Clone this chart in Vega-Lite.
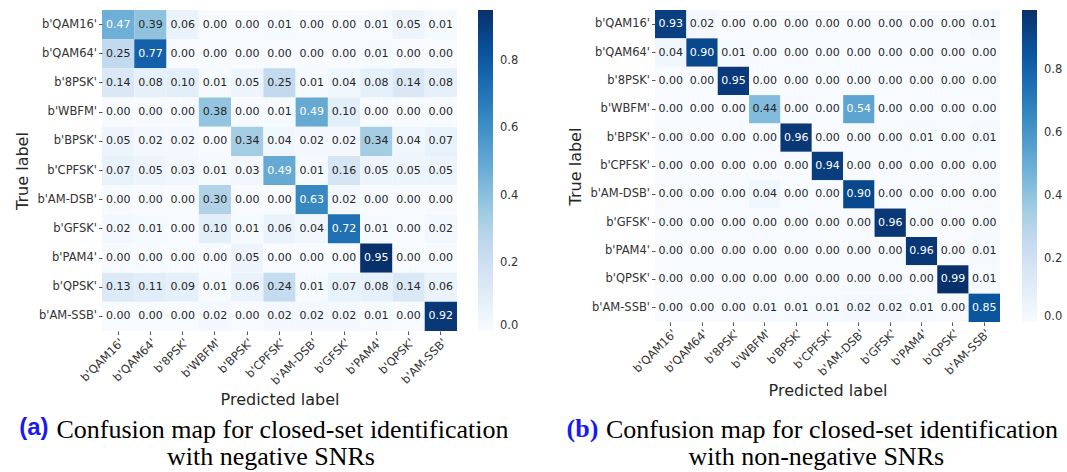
{
  "$schema": "https://vega.github.io/schema/vega-lite/v6.json",
  "padding": {"left": 14, "top": 10, "right": 0, "bottom": 0},
  "background": "white",
  "spacing": 553,
  "bounds": "flush",
  "align": "none",
  "config": {
    "view": {"stroke": null},
    "font": "DejaVu Sans",
    "axis": {"domain": false, "grid": false, "labelFont": "DejaVu Sans", "labelFontSize": 11.5, "labelColor": "#333333", "tickColor": "#555555", "tickSize": 3.5, "labelPadding": 2, "titleFont": "DejaVu Sans", "titleFontSize": 16, "titleFontWeight": "normal", "titleColor": "#262626"},
    "legend": {"labelFont": "DejaVu Sans", "labelFontSize": 11.5, "labelColor": "#333333"},
    "title": {"font": "Liberation Serif", "fontSize": 26, "fontWeight": "normal", "color": "#000000", "lineHeight": 30}
  },
  "datasets": {
    "neg": [
      {"t":"b'QAM16'","p":"b'QAM16'","v":0.47},{"t":"b'QAM16'","p":"b'QAM64'","v":0.39},{"t":"b'QAM16'","p":"b'8PSK'","v":0.06},{"t":"b'QAM16'","p":"b'WBFM'","v":0.00},{"t":"b'QAM16'","p":"b'BPSK'","v":0.00},{"t":"b'QAM16'","p":"b'CPFSK'","v":0.01},{"t":"b'QAM16'","p":"b'AM-DSB'","v":0.00},{"t":"b'QAM16'","p":"b'GFSK'","v":0.00},{"t":"b'QAM16'","p":"b'PAM4'","v":0.01},{"t":"b'QAM16'","p":"b'QPSK'","v":0.05},{"t":"b'QAM16'","p":"b'AM-SSB'","v":0.01},
      {"t":"b'QAM64'","p":"b'QAM16'","v":0.25},{"t":"b'QAM64'","p":"b'QAM64'","v":0.77},{"t":"b'QAM64'","p":"b'8PSK'","v":0.00},{"t":"b'QAM64'","p":"b'WBFM'","v":0.00},{"t":"b'QAM64'","p":"b'BPSK'","v":0.00},{"t":"b'QAM64'","p":"b'CPFSK'","v":0.00},{"t":"b'QAM64'","p":"b'AM-DSB'","v":0.00},{"t":"b'QAM64'","p":"b'GFSK'","v":0.00},{"t":"b'QAM64'","p":"b'PAM4'","v":0.01},{"t":"b'QAM64'","p":"b'QPSK'","v":0.00},{"t":"b'QAM64'","p":"b'AM-SSB'","v":0.00},
      {"t":"b'8PSK'","p":"b'QAM16'","v":0.14},{"t":"b'8PSK'","p":"b'QAM64'","v":0.08},{"t":"b'8PSK'","p":"b'8PSK'","v":0.10},{"t":"b'8PSK'","p":"b'WBFM'","v":0.01},{"t":"b'8PSK'","p":"b'BPSK'","v":0.05},{"t":"b'8PSK'","p":"b'CPFSK'","v":0.25},{"t":"b'8PSK'","p":"b'AM-DSB'","v":0.01},{"t":"b'8PSK'","p":"b'GFSK'","v":0.04},{"t":"b'8PSK'","p":"b'PAM4'","v":0.08},{"t":"b'8PSK'","p":"b'QPSK'","v":0.14},{"t":"b'8PSK'","p":"b'AM-SSB'","v":0.08},
      {"t":"b'WBFM'","p":"b'QAM16'","v":0.00},{"t":"b'WBFM'","p":"b'QAM64'","v":0.00},{"t":"b'WBFM'","p":"b'8PSK'","v":0.00},{"t":"b'WBFM'","p":"b'WBFM'","v":0.38},{"t":"b'WBFM'","p":"b'BPSK'","v":0.00},{"t":"b'WBFM'","p":"b'CPFSK'","v":0.01},{"t":"b'WBFM'","p":"b'AM-DSB'","v":0.49},{"t":"b'WBFM'","p":"b'GFSK'","v":0.10},{"t":"b'WBFM'","p":"b'PAM4'","v":0.00},{"t":"b'WBFM'","p":"b'QPSK'","v":0.00},{"t":"b'WBFM'","p":"b'AM-SSB'","v":0.00},
      {"t":"b'BPSK'","p":"b'QAM16'","v":0.05},{"t":"b'BPSK'","p":"b'QAM64'","v":0.02},{"t":"b'BPSK'","p":"b'8PSK'","v":0.02},{"t":"b'BPSK'","p":"b'WBFM'","v":0.00},{"t":"b'BPSK'","p":"b'BPSK'","v":0.34},{"t":"b'BPSK'","p":"b'CPFSK'","v":0.04},{"t":"b'BPSK'","p":"b'AM-DSB'","v":0.02},{"t":"b'BPSK'","p":"b'GFSK'","v":0.02},{"t":"b'BPSK'","p":"b'PAM4'","v":0.34},{"t":"b'BPSK'","p":"b'QPSK'","v":0.04},{"t":"b'BPSK'","p":"b'AM-SSB'","v":0.07},
      {"t":"b'CPFSK'","p":"b'QAM16'","v":0.07},{"t":"b'CPFSK'","p":"b'QAM64'","v":0.05},{"t":"b'CPFSK'","p":"b'8PSK'","v":0.03},{"t":"b'CPFSK'","p":"b'WBFM'","v":0.01},{"t":"b'CPFSK'","p":"b'BPSK'","v":0.03},{"t":"b'CPFSK'","p":"b'CPFSK'","v":0.49},{"t":"b'CPFSK'","p":"b'AM-DSB'","v":0.01},{"t":"b'CPFSK'","p":"b'GFSK'","v":0.16},{"t":"b'CPFSK'","p":"b'PAM4'","v":0.05},{"t":"b'CPFSK'","p":"b'QPSK'","v":0.05},{"t":"b'CPFSK'","p":"b'AM-SSB'","v":0.05},
      {"t":"b'AM-DSB'","p":"b'QAM16'","v":0.00},{"t":"b'AM-DSB'","p":"b'QAM64'","v":0.00},{"t":"b'AM-DSB'","p":"b'8PSK'","v":0.00},{"t":"b'AM-DSB'","p":"b'WBFM'","v":0.30},{"t":"b'AM-DSB'","p":"b'BPSK'","v":0.00},{"t":"b'AM-DSB'","p":"b'CPFSK'","v":0.00},{"t":"b'AM-DSB'","p":"b'AM-DSB'","v":0.63},{"t":"b'AM-DSB'","p":"b'GFSK'","v":0.02},{"t":"b'AM-DSB'","p":"b'PAM4'","v":0.00},{"t":"b'AM-DSB'","p":"b'QPSK'","v":0.00},{"t":"b'AM-DSB'","p":"b'AM-SSB'","v":0.00},
      {"t":"b'GFSK'","p":"b'QAM16'","v":0.02},{"t":"b'GFSK'","p":"b'QAM64'","v":0.01},{"t":"b'GFSK'","p":"b'8PSK'","v":0.00},{"t":"b'GFSK'","p":"b'WBFM'","v":0.10},{"t":"b'GFSK'","p":"b'BPSK'","v":0.01},{"t":"b'GFSK'","p":"b'CPFSK'","v":0.06},{"t":"b'GFSK'","p":"b'AM-DSB'","v":0.04},{"t":"b'GFSK'","p":"b'GFSK'","v":0.72},{"t":"b'GFSK'","p":"b'PAM4'","v":0.01},{"t":"b'GFSK'","p":"b'QPSK'","v":0.00},{"t":"b'GFSK'","p":"b'AM-SSB'","v":0.02},
      {"t":"b'PAM4'","p":"b'QAM16'","v":0.00},{"t":"b'PAM4'","p":"b'QAM64'","v":0.00},{"t":"b'PAM4'","p":"b'8PSK'","v":0.00},{"t":"b'PAM4'","p":"b'WBFM'","v":0.00},{"t":"b'PAM4'","p":"b'BPSK'","v":0.05},{"t":"b'PAM4'","p":"b'CPFSK'","v":0.00},{"t":"b'PAM4'","p":"b'AM-DSB'","v":0.00},{"t":"b'PAM4'","p":"b'GFSK'","v":0.00},{"t":"b'PAM4'","p":"b'PAM4'","v":0.95},{"t":"b'PAM4'","p":"b'QPSK'","v":0.00},{"t":"b'PAM4'","p":"b'AM-SSB'","v":0.00},
      {"t":"b'QPSK'","p":"b'QAM16'","v":0.13},{"t":"b'QPSK'","p":"b'QAM64'","v":0.11},{"t":"b'QPSK'","p":"b'8PSK'","v":0.09},{"t":"b'QPSK'","p":"b'WBFM'","v":0.01},{"t":"b'QPSK'","p":"b'BPSK'","v":0.06},{"t":"b'QPSK'","p":"b'CPFSK'","v":0.24},{"t":"b'QPSK'","p":"b'AM-DSB'","v":0.01},{"t":"b'QPSK'","p":"b'GFSK'","v":0.07},{"t":"b'QPSK'","p":"b'PAM4'","v":0.08},{"t":"b'QPSK'","p":"b'QPSK'","v":0.14},{"t":"b'QPSK'","p":"b'AM-SSB'","v":0.06},
      {"t":"b'AM-SSB'","p":"b'QAM16'","v":0.00},{"t":"b'AM-SSB'","p":"b'QAM64'","v":0.00},{"t":"b'AM-SSB'","p":"b'8PSK'","v":0.00},{"t":"b'AM-SSB'","p":"b'WBFM'","v":0.02},{"t":"b'AM-SSB'","p":"b'BPSK'","v":0.00},{"t":"b'AM-SSB'","p":"b'CPFSK'","v":0.02},{"t":"b'AM-SSB'","p":"b'AM-DSB'","v":0.02},{"t":"b'AM-SSB'","p":"b'GFSK'","v":0.02},{"t":"b'AM-SSB'","p":"b'PAM4'","v":0.01},{"t":"b'AM-SSB'","p":"b'QPSK'","v":0.00},{"t":"b'AM-SSB'","p":"b'AM-SSB'","v":0.92}
    ],
    "pos": [
      {"t":"b'QAM16'","p":"b'QAM16'","v":0.93},{"t":"b'QAM16'","p":"b'QAM64'","v":0.02},{"t":"b'QAM16'","p":"b'8PSK'","v":0.00},{"t":"b'QAM16'","p":"b'WBFM'","v":0.00},{"t":"b'QAM16'","p":"b'BPSK'","v":0.00},{"t":"b'QAM16'","p":"b'CPFSK'","v":0.00},{"t":"b'QAM16'","p":"b'AM-DSB'","v":0.00},{"t":"b'QAM16'","p":"b'GFSK'","v":0.00},{"t":"b'QAM16'","p":"b'PAM4'","v":0.00},{"t":"b'QAM16'","p":"b'QPSK'","v":0.00},{"t":"b'QAM16'","p":"b'AM-SSB'","v":0.01},
      {"t":"b'QAM64'","p":"b'QAM16'","v":0.04},{"t":"b'QAM64'","p":"b'QAM64'","v":0.90},{"t":"b'QAM64'","p":"b'8PSK'","v":0.01},{"t":"b'QAM64'","p":"b'WBFM'","v":0.00},{"t":"b'QAM64'","p":"b'BPSK'","v":0.00},{"t":"b'QAM64'","p":"b'CPFSK'","v":0.00},{"t":"b'QAM64'","p":"b'AM-DSB'","v":0.00},{"t":"b'QAM64'","p":"b'GFSK'","v":0.00},{"t":"b'QAM64'","p":"b'PAM4'","v":0.00},{"t":"b'QAM64'","p":"b'QPSK'","v":0.00},{"t":"b'QAM64'","p":"b'AM-SSB'","v":0.00},
      {"t":"b'8PSK'","p":"b'QAM16'","v":0.00},{"t":"b'8PSK'","p":"b'QAM64'","v":0.00},{"t":"b'8PSK'","p":"b'8PSK'","v":0.95},{"t":"b'8PSK'","p":"b'WBFM'","v":0.00},{"t":"b'8PSK'","p":"b'BPSK'","v":0.00},{"t":"b'8PSK'","p":"b'CPFSK'","v":0.00},{"t":"b'8PSK'","p":"b'AM-DSB'","v":0.00},{"t":"b'8PSK'","p":"b'GFSK'","v":0.00},{"t":"b'8PSK'","p":"b'PAM4'","v":0.00},{"t":"b'8PSK'","p":"b'QPSK'","v":0.00},{"t":"b'8PSK'","p":"b'AM-SSB'","v":0.00},
      {"t":"b'WBFM'","p":"b'QAM16'","v":0.00},{"t":"b'WBFM'","p":"b'QAM64'","v":0.00},{"t":"b'WBFM'","p":"b'8PSK'","v":0.00},{"t":"b'WBFM'","p":"b'WBFM'","v":0.44},{"t":"b'WBFM'","p":"b'BPSK'","v":0.00},{"t":"b'WBFM'","p":"b'CPFSK'","v":0.00},{"t":"b'WBFM'","p":"b'AM-DSB'","v":0.54},{"t":"b'WBFM'","p":"b'GFSK'","v":0.00},{"t":"b'WBFM'","p":"b'PAM4'","v":0.00},{"t":"b'WBFM'","p":"b'QPSK'","v":0.00},{"t":"b'WBFM'","p":"b'AM-SSB'","v":0.00},
      {"t":"b'BPSK'","p":"b'QAM16'","v":0.00},{"t":"b'BPSK'","p":"b'QAM64'","v":0.00},{"t":"b'BPSK'","p":"b'8PSK'","v":0.00},{"t":"b'BPSK'","p":"b'WBFM'","v":0.00},{"t":"b'BPSK'","p":"b'BPSK'","v":0.96},{"t":"b'BPSK'","p":"b'CPFSK'","v":0.00},{"t":"b'BPSK'","p":"b'AM-DSB'","v":0.00},{"t":"b'BPSK'","p":"b'GFSK'","v":0.00},{"t":"b'BPSK'","p":"b'PAM4'","v":0.01},{"t":"b'BPSK'","p":"b'QPSK'","v":0.00},{"t":"b'BPSK'","p":"b'AM-SSB'","v":0.01},
      {"t":"b'CPFSK'","p":"b'QAM16'","v":0.00},{"t":"b'CPFSK'","p":"b'QAM64'","v":0.00},{"t":"b'CPFSK'","p":"b'8PSK'","v":0.00},{"t":"b'CPFSK'","p":"b'WBFM'","v":0.00},{"t":"b'CPFSK'","p":"b'BPSK'","v":0.00},{"t":"b'CPFSK'","p":"b'CPFSK'","v":0.94},{"t":"b'CPFSK'","p":"b'AM-DSB'","v":0.00},{"t":"b'CPFSK'","p":"b'GFSK'","v":0.00},{"t":"b'CPFSK'","p":"b'PAM4'","v":0.00},{"t":"b'CPFSK'","p":"b'QPSK'","v":0.00},{"t":"b'CPFSK'","p":"b'AM-SSB'","v":0.00},
      {"t":"b'AM-DSB'","p":"b'QAM16'","v":0.00},{"t":"b'AM-DSB'","p":"b'QAM64'","v":0.00},{"t":"b'AM-DSB'","p":"b'8PSK'","v":0.00},{"t":"b'AM-DSB'","p":"b'WBFM'","v":0.04},{"t":"b'AM-DSB'","p":"b'BPSK'","v":0.00},{"t":"b'AM-DSB'","p":"b'CPFSK'","v":0.00},{"t":"b'AM-DSB'","p":"b'AM-DSB'","v":0.90},{"t":"b'AM-DSB'","p":"b'GFSK'","v":0.00},{"t":"b'AM-DSB'","p":"b'PAM4'","v":0.00},{"t":"b'AM-DSB'","p":"b'QPSK'","v":0.00},{"t":"b'AM-DSB'","p":"b'AM-SSB'","v":0.00},
      {"t":"b'GFSK'","p":"b'QAM16'","v":0.00},{"t":"b'GFSK'","p":"b'QAM64'","v":0.00},{"t":"b'GFSK'","p":"b'8PSK'","v":0.00},{"t":"b'GFSK'","p":"b'WBFM'","v":0.00},{"t":"b'GFSK'","p":"b'BPSK'","v":0.00},{"t":"b'GFSK'","p":"b'CPFSK'","v":0.00},{"t":"b'GFSK'","p":"b'AM-DSB'","v":0.00},{"t":"b'GFSK'","p":"b'GFSK'","v":0.96},{"t":"b'GFSK'","p":"b'PAM4'","v":0.00},{"t":"b'GFSK'","p":"b'QPSK'","v":0.00},{"t":"b'GFSK'","p":"b'AM-SSB'","v":0.00},
      {"t":"b'PAM4'","p":"b'QAM16'","v":0.00},{"t":"b'PAM4'","p":"b'QAM64'","v":0.00},{"t":"b'PAM4'","p":"b'8PSK'","v":0.00},{"t":"b'PAM4'","p":"b'WBFM'","v":0.00},{"t":"b'PAM4'","p":"b'BPSK'","v":0.00},{"t":"b'PAM4'","p":"b'CPFSK'","v":0.00},{"t":"b'PAM4'","p":"b'AM-DSB'","v":0.00},{"t":"b'PAM4'","p":"b'GFSK'","v":0.00},{"t":"b'PAM4'","p":"b'PAM4'","v":0.96},{"t":"b'PAM4'","p":"b'QPSK'","v":0.00},{"t":"b'PAM4'","p":"b'AM-SSB'","v":0.01},
      {"t":"b'QPSK'","p":"b'QAM16'","v":0.00},{"t":"b'QPSK'","p":"b'QAM64'","v":0.00},{"t":"b'QPSK'","p":"b'8PSK'","v":0.00},{"t":"b'QPSK'","p":"b'WBFM'","v":0.00},{"t":"b'QPSK'","p":"b'BPSK'","v":0.00},{"t":"b'QPSK'","p":"b'CPFSK'","v":0.00},{"t":"b'QPSK'","p":"b'AM-DSB'","v":0.00},{"t":"b'QPSK'","p":"b'GFSK'","v":0.00},{"t":"b'QPSK'","p":"b'PAM4'","v":0.00},{"t":"b'QPSK'","p":"b'QPSK'","v":0.99},{"t":"b'QPSK'","p":"b'AM-SSB'","v":0.01},
      {"t":"b'AM-SSB'","p":"b'QAM16'","v":0.00},{"t":"b'AM-SSB'","p":"b'QAM64'","v":0.00},{"t":"b'AM-SSB'","p":"b'8PSK'","v":0.00},{"t":"b'AM-SSB'","p":"b'WBFM'","v":0.01},{"t":"b'AM-SSB'","p":"b'BPSK'","v":0.01},{"t":"b'AM-SSB'","p":"b'CPFSK'","v":0.01},{"t":"b'AM-SSB'","p":"b'AM-DSB'","v":0.02},{"t":"b'AM-SSB'","p":"b'GFSK'","v":0.02},{"t":"b'AM-SSB'","p":"b'PAM4'","v":0.01},{"t":"b'AM-SSB'","p":"b'QPSK'","v":0.00},{"t":"b'AM-SSB'","p":"b'AM-SSB'","v":0.85}
    ]
  },
  "resolve": {"scale": {"color": "independent", "x": "independent", "y": "independent"}, "legend": {"color": "independent"}},
  "hconcat": [
    {
      "bounds": "flush",
      "resolve": {"scale": {"color": "independent"}, "legend": {"color": "independent"}},
      "title": {"text": "with negative SNRs", "orient": "bottom", "anchor": "middle", "offset": 1, "dx": 4},
      "vconcat": [
        {
          "bounds": "flush",
          "resolve": {"scale": {"color": "independent"}, "legend": {"color": "independent"}},
          "title": {"text": "(a)", "orient": "bottom", "anchor": "middle", "font": "Liberation Sans", "fontWeight": "bold", "fontSize": 24, "color": "#1a1aee", "offset": 0, "dx": -233, "dy": -27},
          "vconcat": [
            {
              "width": 355,
              "height": 321,
              "data": {"name": "neg"},
              "title": {"text": "Confusion map for closed-set identification", "orient": "bottom", "anchor": "middle", "offset": 9, "dx": 3},
              "encoding": {
                "x": {"field": "p", "type": "ordinal", "sort": null, "scale": {"paddingInner": 0, "paddingOuter": 0}, "axis": {"title": "Predicted label", "labelAngle": -45, "titlePadding": 5}},
                "y": {"field": "t", "type": "ordinal", "sort": null, "scale": {"paddingInner": 0, "paddingOuter": 0}, "axis": {"title": "True label", "titlePadding": 6}}
              },
              "layer": [
                {
                  "mark": {"type": "rect"},
                  "encoding": {
                    "color": {"field": "v", "type": "quantitative",
                      "scale": {"domain": [0, 0.11875, 0.2375, 0.35625, 0.475, 0.59375, 0.7125, 0.83125, 0.95], "range": ["#f7fbff", "#deebf7", "#c6dbef", "#9ecae1", "#6baed6", "#4292c6", "#2171b5", "#08519c", "#08306b"]},
                      "legend": {"title": null, "orient": "right", "offset": 21, "direction": "vertical", "gradientLength": 321, "gradientThickness": 15, "gradientStrokeWidth": 0, "values": [0, 0.2, 0.4, 0.6, 0.8], "format": ".1f", "labelOffset": 7}}
                  }
                },
                {
                  "mark": {"type": "text", "fontSize": 11, "font": "DejaVu Sans"},
                  "encoding": {
                    "text": {"field": "v", "type": "quantitative", "format": ".2f"},
                    "color": {"condition": {"test": "datum.v > 0.45", "value": "#ffffff"}, "value": "#262626"}
                  }
                }
              ]
            }
          ]
        }
      ]
    },
    {
      "bounds": "flush",
      "resolve": {"scale": {"color": "independent"}, "legend": {"color": "independent"}},
      "title": {"text": "with non-negative SNRs", "orient": "bottom", "anchor": "middle", "offset": 1, "dx": 1.5},
      "vconcat": [
        {
          "bounds": "flush",
          "resolve": {"scale": {"color": "independent"}, "legend": {"color": "independent"}},
          "title": {"text": "(b)", "orient": "bottom", "anchor": "middle", "font": "Liberation Serif", "fontWeight": "bold", "fontSize": 26, "color": "#1a1aee", "offset": 0, "dx": -233, "dy": -27},
          "vconcat": [
            {
              "width": 345,
              "height": 312,
              "data": {"name": "pos"},
              "title": {"text": "Confusion map for closed-set identification", "orient": "bottom", "anchor": "middle", "offset": 18, "dx": 4.5},
              "encoding": {
                "x": {"field": "p", "type": "ordinal", "sort": null, "scale": {"paddingInner": 0, "paddingOuter": 0}, "axis": {"title": "Predicted label", "labelAngle": -45, "titlePadding": 5}},
                "y": {"field": "t", "type": "ordinal", "sort": null, "scale": {"paddingInner": 0, "paddingOuter": 0}, "axis": {"title": "True label", "titlePadding": 6}}
              },
              "layer": [
                {
                  "mark": {"type": "rect"},
                  "encoding": {
                    "color": {"field": "v", "type": "quantitative",
                      "scale": {"domain": [0, 0.12375, 0.2475, 0.37125, 0.495, 0.61875, 0.7425, 0.86625, 0.99], "range": ["#f7fbff", "#deebf7", "#c6dbef", "#9ecae1", "#6baed6", "#4292c6", "#2171b5", "#08519c", "#08306b"]},
                      "legend": {"title": null, "orient": "right", "offset": 22, "direction": "vertical", "gradientLength": 312, "gradientThickness": 15, "gradientStrokeWidth": 0, "values": [0, 0.2, 0.4, 0.6, 0.8], "format": ".1f", "labelOffset": 7}}
                  }
                },
                {
                  "mark": {"type": "text", "fontSize": 11, "font": "DejaVu Sans"},
                  "encoding": {
                    "text": {"field": "v", "type": "quantitative", "format": ".2f"},
                    "color": {"condition": {"test": "datum.v > 0.45", "value": "#ffffff"}, "value": "#262626"}
                  }
                }
              ]
            }
          ]
        }
      ]
    }
  ]
}
